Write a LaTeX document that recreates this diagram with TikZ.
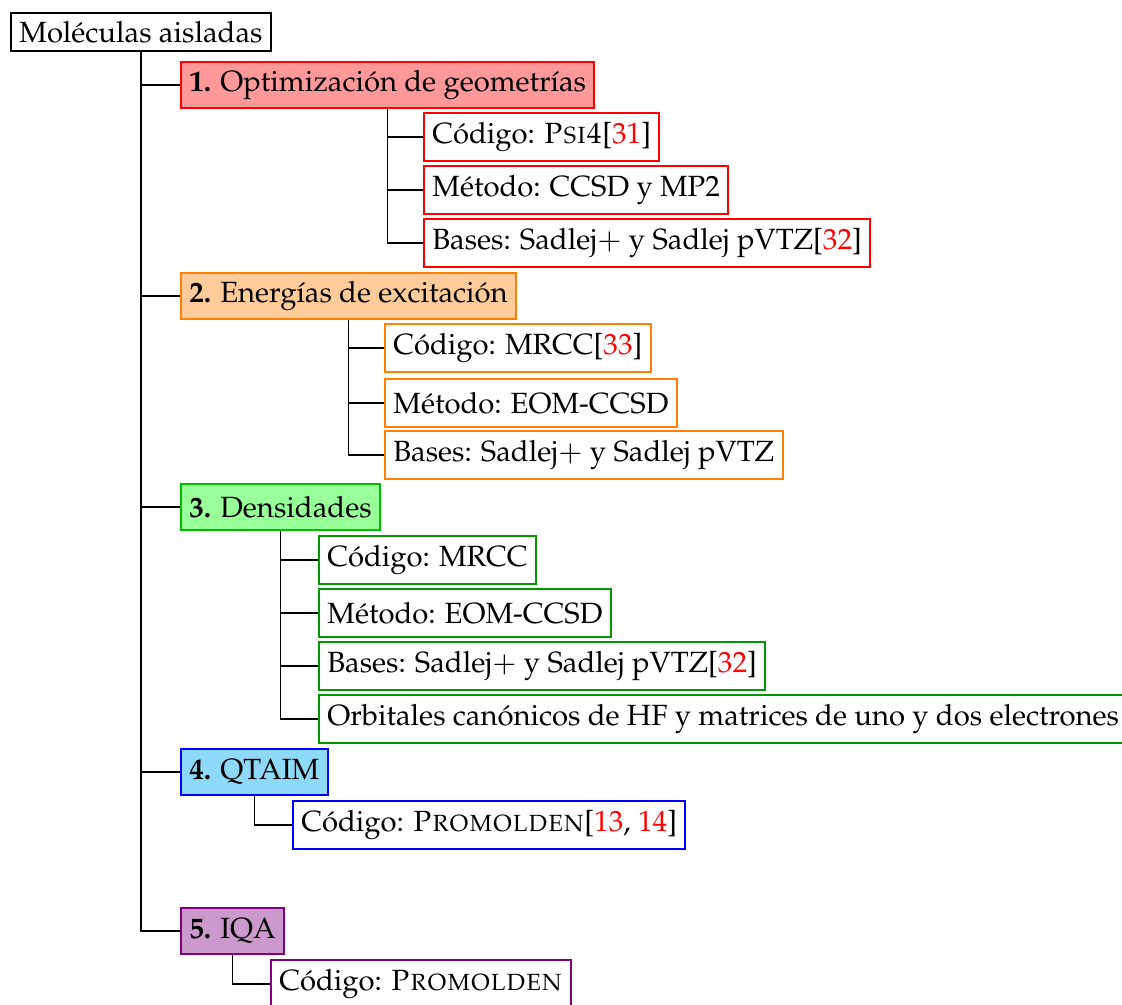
\documentclass[tikz,border=0pt]{standalone}
\usepackage[T1]{fontenc}
\usepackage{mathpazo}
\usepackage{tikz}
\usetikzlibrary{positioning}

\definecolor{qtaimfill}{RGB}{142,216,248}
\newcommand{\refn}[1]{\textcolor{red}{#1}}

\tikzset{
  root/.style={draw=black, thick, anchor=west},
  head/.style 2 args={draw=#1, fill=#2, thick, anchor=west, minimum height=18.6pt},
  leaf/.style={draw=#1, fill=white, thick, anchor=west, minimum height=19.2pt},
  branch/.style={semithick},
}

\begin{document}
\begin{tikzpicture}[x=0.4pt, y=-0.4pt,
    every node/.style={font=\fontsize{11.7}{14}\selectfont}]
	  \useasboundingbox (0,0) rectangle (1122,1005);

	  \node[root] (mol) at (10,32) {Mol\'eculas aisladas};

	  % 1
	  \node[head={red}{red!40}] (opt) at (180,85) {\textbf{1.} Optimizaci\'on de geometr\'{\i}as};
	  \node[leaf=red] (opt1) at (423,137) {C\'odigo: \textsc{Psi4}[\refn{31}]};
	  \node[leaf=red] (opt2) at (423,190) {M\'etodo: CCSD y MP2};
	  \node[leaf=red] (opt3) at (423,243) {Bases: Sadlej$+$ y Sadlej pVTZ[\refn{32}]};

	  % 2
	  \node[head={orange}{orange!40}] (exc) at (180,296) {\textbf{2.} Energ\'{\i}as de excitaci\'on};
	  \node[leaf=orange] (exc1) at (384,348) {C\'odigo: MRCC[\refn{33}]};
	  \node[leaf=orange] (exc2) at (384,403) {M\'etodo: EOM-CCSD};
	  \node[leaf=orange] (exc3) at (384,455) {Bases: Sadlej$+$ y Sadlej pVTZ};

	  % 3
	  \node[head={green!75!black}{green!40}] (den) at (180,507) {\textbf{3.} Densidades};
	  \node[leaf=green!60!black] (den1) at (318,560) {C\'odigo: MRCC};
	  \node[leaf=green!60!black] (den2) at (318,613) {M\'etodo: EOM-CCSD};
	  \node[leaf=green!60!black] (den3) at (318,666) {Bases: Sadlej$+$ y Sadlej pVTZ[\refn{32}]};
	  \node[leaf=green!60!black] (den4) at (318,719) {Orbitales can\'onicos de HF y matrices de uno y dos electrones};

	  % 4
	  \node[head={blue}{qtaimfill}] (qta) at (180,772) {\textbf{4.} QTAIM};
	  \node[leaf=blue] (qta1) at (292,825) {C\'odigo: \textsc{Promolden}[\refn{13}, \refn{14}]};

	  % 5
	  \node[head={violet}{violet!40}] (iqa) at (180,931) {\textbf{5.} IQA};
	  \node[leaf=violet] (iqa1) at (270,984) {C\'odigo: \textsc{Promolden}};

	  % trunk
	  \draw[branch] (mol.south) -- (mol.south |- iqa.west) -- (iqa.west);
	  \foreach \h in {opt,exc,den,qta}
	    \draw[branch] (mol.south |- \h.west) -- (\h.west);

	  % ramas
	  \draw[branch] (opt.south) -- (opt.south |- opt3.west) -- (opt3.west);
	  \foreach \l in {opt1,opt2}
	    \draw[branch] (opt.south |- \l.west) -- (\l.west);
	  \draw[branch] (exc.south) -- (exc.south |- exc3.west) -- (exc3.west);
	  \foreach \l in {exc1,exc2}
	    \draw[branch] (exc.south |- \l.west) -- (\l.west);
	  \draw[branch] (den.south) -- (den.south |- den4.west) -- (den4.west);
	  \foreach \l in {den1,den2,den3}
	    \draw[branch] (den.south |- \l.west) -- (\l.west);
	  \draw[branch] (qta.south) -- (qta.south |- qta1.west) -- (qta1.west);
	  \draw[branch] (iqa.south) -- (iqa.south |- iqa1.west) -- (iqa1.west);
	\end{tikzpicture}
\end{document}
